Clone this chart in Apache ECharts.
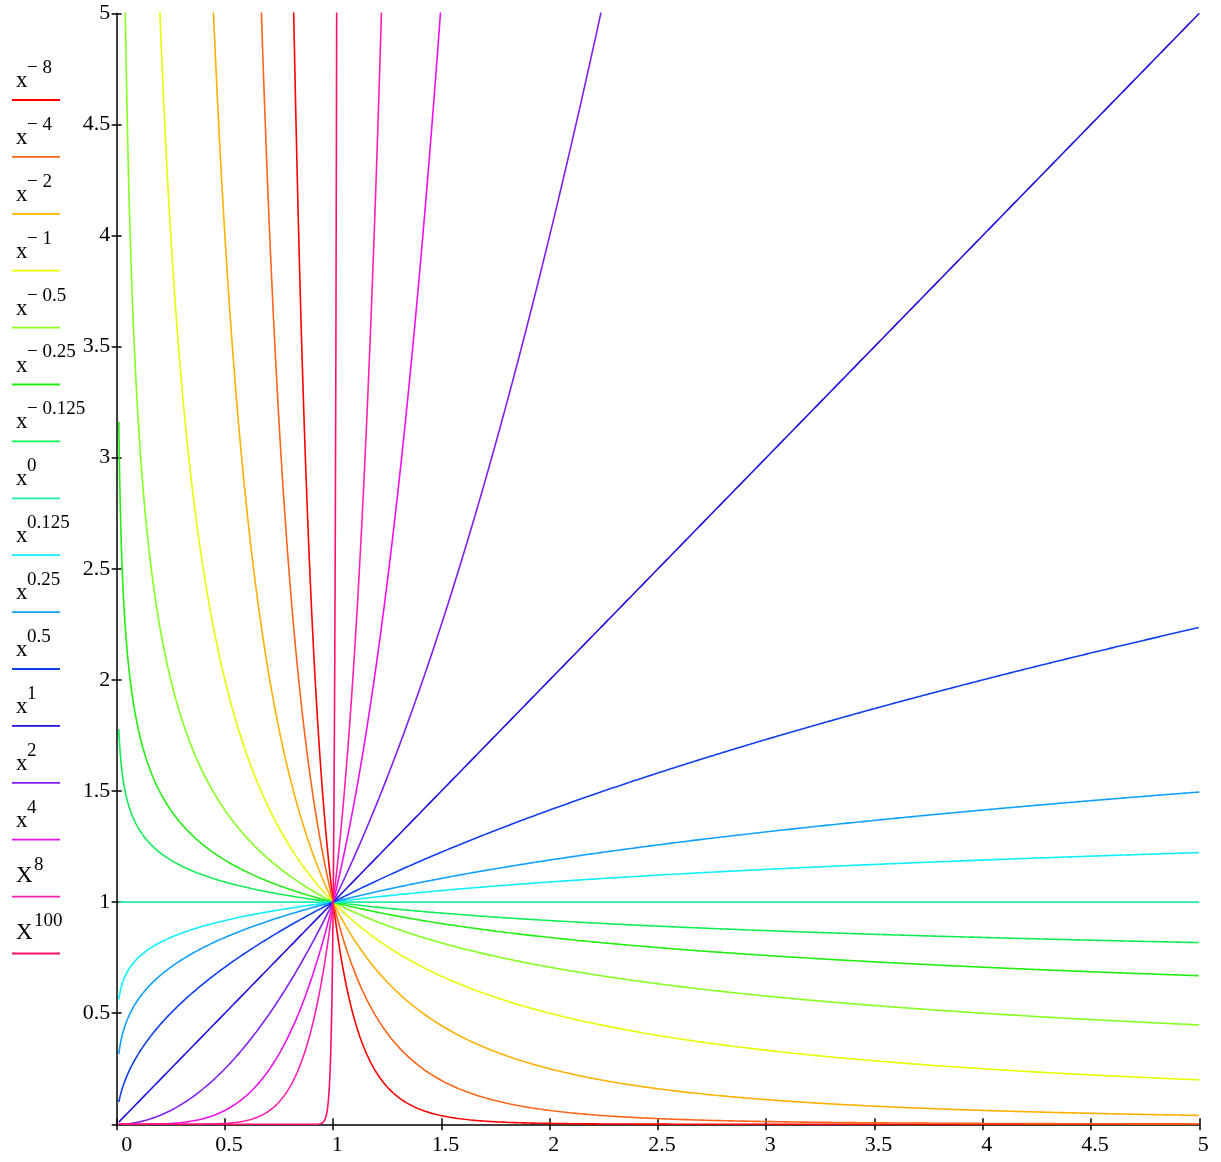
<!DOCTYPE html>
<html>
<head>
<meta charset="utf-8">
<script src="https://cdn.jsdelivr.net/npm/echarts@6/dist/echarts.min.js"></script>
<style>
  html, body { margin: 0; padding: 0; background: #fff; }
  #chart { width: 1221px; height: 1162px; }
</style>
</head>
<body>
<div id="chart"></div>
<script>
// Exponents of the plotted power curves y = x^p
const exponents = [-8, -4, -2, -1, -0.5, -0.25, -0.125, 0, 0.125, 0.25, 0.5, 1, 2, 4, 8, 100];
// Legend text: base and superscript
const legendBases = ['x', 'x', 'x', 'x', 'x', 'x', 'x', 'x', 'x', 'x', 'x', 'x', 'x', 'x', 'X', 'X'];
const legendSups = ['\u2212 8', '\u2212 4', '\u2212 2', '\u2212 1', '\u2212 0.5', '\u2212 0.25', '\u2212 0.125', '0', '0.125', '0.25', '0.5', '1', '2', '4', '8', '100'];
// Tick labels
const xTicks = [0, 0.5, 1, 1.5, 2, 2.5, 3, 3.5, 4, 4.5, 5];
const yTicks = [0.5, 1, 1.5, 2, 2.5, 3, 3.5, 4, 4.5, 5];
// Plotted x range
const xStart = 0.01;
const xEnd = 5;

// Styles
const colors = ['#ff0000', '#ff6418', '#ffb000', '#e6ff00', '#84ff20', '#22ee10', '#10ee55', '#20eeaa',
                '#10eeff', '#10a0ff', '#1040ee', '#2010dd', '#8020ee', '#ee10ee', '#ff20b0', '#ff1068'];
const serif = '"Liberation Serif", "DejaVu Serif", serif';

const chart = echarts.init(document.getElementById('chart'), null, { renderer: 'canvas' });

const step = 0.0025;
const n = Math.round((xEnd - xStart) / step);
const series = exponents.map((p, i) => {
  const data = [];
  for (let k = 0; k <= n; k++) {
    const x = xStart + k * step;
    const y = Math.pow(x, p);
    data.push([x, Math.min(y, 50)]);
  }
  return {
    type: 'line',
    name: 'x^' + p,
    data: data,
    showSymbol: false,
    symbol: 'none',
    sampling: null,
    clip: true,
    lineStyle: { color: colors[i], width: 1.6 },
    itemStyle: { color: colors[i] },
    animation: false,
    z: 2
  };
});

// Legend drawn as graphic elements
const graphics = [];
const legendTop = 100, legendGap = 56.9;
exponents.forEach((p, i) => {
  const ly = legendTop + i * legendGap;
  const big = legendBases[i] === 'X';
  graphics.push({
    type: 'line',
    shape: { x1: 12, y1: ly, x2: 60, y2: ly },
    style: { stroke: colors[i], lineWidth: 1.8 }
  });
  graphics.push({
    type: 'text',
    x: 16, y: ly - (big ? 21 : 19),
    style: { text: legendBases[i], font: '23px ' + serif, fill: '#000', verticalAlign: 'middle', align: 'left' }
  });
  graphics.push({
    type: 'text',
    x: big ? 34 : 27, y: ly - 32,
    style: { text: legendSups[i], font: '19px ' + serif, fill: '#000', verticalAlign: 'middle', align: 'left' }
  });
});

const axisLineStyle = { color: '#000', width: 1.5 };

const option = {
  backgroundColor: '#fff',
  animation: false,
  grid: { left: 112.3, right: 21.7, top: 13.3, bottom: 37.7, containLabel: false },
  xAxis: [
    {
      type: 'value', min: -0.02, max: 5, position: 'bottom',
      axisLine: { onZero: false, lineStyle: axisLineStyle },
      axisTick: { customValues: xTicks, length: 6, inside: false, lineStyle: axisLineStyle },
      axisLabel: {
        customValues: xTicks, color: '#000', fontFamily: serif, fontSize: 22, margin: 10,
        padding: [0, 0, 0, 8],
        formatter: v => (v === 0 ? '{z|0}' : String(v)),
        rich: { z: { fontFamily: serif, fontSize: 22, color: '#000', padding: [0, 0, 0, 12] } }
      },
      splitLine: { show: false }
    },
    {
      type: 'value', min: -0.02, max: 5, position: 'bottom',
      axisLine: { show: false, onZero: false },
      axisTick: { customValues: xTicks, length: 6, inside: true, lineStyle: axisLineStyle },
      axisLabel: { show: false },
      splitLine: { show: false }
    }
  ],
  yAxis: [
    {
      type: 'value', min: 0, max: 5, position: 'left',
      axisLine: { onZero: true, onZeroAxisIndex: 0, lineStyle: axisLineStyle },
      axisTick: { customValues: yTicks, length: 5, inside: false, lineStyle: axisLineStyle },
      axisLabel: {
        customValues: yTicks, color: '#000', fontFamily: serif, fontSize: 22, margin: 2,
        padding: [10, 0, 0, 0]
      },
      splitLine: { show: false }
    },
    {
      type: 'value', min: 0, max: 5, position: 'left',
      axisLine: { show: false, onZero: true, onZeroAxisIndex: 0 },
      axisTick: { customValues: yTicks, length: 5, inside: true, lineStyle: axisLineStyle },
      axisLabel: { show: false },
      splitLine: { show: false }
    }
  ],
  series: series,
  graphic: graphics
};

chart.setOption(option);
</script>
</body>
</html>
